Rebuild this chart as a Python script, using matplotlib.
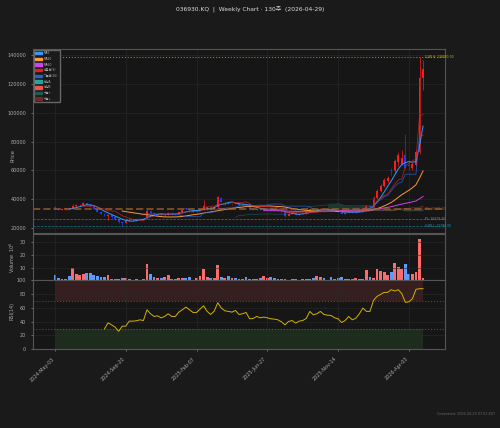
import numpy as np
import pandas as pd
import matplotlib
matplotlib.use('Agg')
import matplotlib.pyplot as plt
from matplotlib.patches import Patch

plt.rcParams['font.family'] = ['DejaVu Sans', 'Noto Sans CJK KR']

# weekly OHLC (KRW)
opens = [34800, 33500, 32800, 33200, 33900, 33100, 35300, 35700, 36200, 37300,
         36300, 35000, 33400, 31500, 30100, 28600, 29000, 27800, 26000, 24500,
         23700, 25000, 25800, 25300, 26400, 26000, 26700, 31700, 30200, 29300,
         29600, 28900, 29400, 30600, 29800, 29700, 31100, 33700, 33200, 31200,
         31600, 31700, 33000, 33100, 34500, 33200, 34400, 41000, 36500, 37600,
         36400, 37600, 37200, 35700, 36900, 36500, 33100, 32900, 33500, 32800,
         33100, 33200, 32700, 32000, 32200, 31000, 28600, 29900, 30300, 29200,
         30000, 30300, 31000, 33300, 32500, 32800, 33500, 32800, 32600, 32500,
         31800, 31400, 30000, 30600, 31700, 30800, 31200, 32500, 33500, 35400,
         34600, 41000, 45800, 49500, 53000, 60500, 59500, 66000, 64000, 71000,
         64000, 61500, 64000, 72500, 124500]
highs = [35500, 34000, 33600, 34000, 34300, 36500, 36400, 37000, 38000, 37600,
         36700, 35300, 33600, 31800, 30500, 29800, 29300, 28100, 26400, 24900,
         25500, 26000, 26100, 26500, 26700, 26900, 33500, 32300, 30600, 29900,
         29800, 29700, 31200, 30900, 30000, 31400, 32700, 34000, 33400, 32000,
         32100, 33500, 39500, 35300, 34700, 34600, 42500, 41500, 38300, 37900,
         37000, 37600, 37400, 36400, 36800, 36600, 33400, 33800, 33700, 33600,
         33500, 33300, 32800, 32600, 32300, 31200, 30200, 30500, 30400, 30200,
         30500, 31200, 33500, 33500, 33000, 33700, 33600, 33000, 32800, 32600,
         31900, 31500, 30800, 31900, 31800, 31500, 32800, 34200, 35800, 35800,
         42000, 47000, 50500, 54500, 56500, 62000, 68000, 72500, 74000, 85000,
         65500, 66000, 74000, 138980, 137000]
lows = [33000, 32600, 32300, 32800, 32900, 33000, 34600, 35200, 35800, 35900,
        34600, 33000, 31000, 29500, 28500, 25800, 27300, 25800, 23800, 21790,
        23300, 24600, 25000, 25000, 25800, 25700, 26400, 29800, 29000, 28900,
        28700, 28600, 29200, 29400, 29300, 29500, 30800, 32800, 32000, 30900,
        31300, 31600, 32800, 32900, 32900, 33000, 34100, 37800, 36200, 36500,
        36000, 36800, 35500, 35400, 36200, 32500, 32700, 32700, 32800, 32600,
        32900, 32300, 32200, 31800, 30800, 28000, 28400, 29600, 29000, 29000,
        29700, 30100, 30900, 32300, 32200, 32600, 32600, 32400, 32300, 31600,
        31200, 29800, 29900, 30500, 30600, 30700, 31000, 32300, 33200, 34200,
        34400, 40500, 45000, 48500, 51000, 57000, 58500, 63000, 64000, 61000,
        60500, 60000, 63000, 71500, 116000]
closes = [33300, 32900, 33300, 33700, 33100, 35400, 35900, 36300, 37200, 36200,
          35000, 33300, 31400, 30000, 28800, 29200, 27700, 26100, 24300, 23600,
          25100, 25700, 25300, 26300, 26100, 26600, 31800, 30200, 29300, 29500,
          28900, 29400, 30600, 29700, 29600, 31100, 32300, 33200, 32300, 31600,
          31700, 33000, 35500, 34500, 33200, 34300, 41500, 38200, 37500, 37000,
          36700, 37300, 35800, 36100, 36600, 33000, 32900, 33500, 33000, 33300,
          33200, 32600, 32400, 32200, 31000, 28600, 29900, 30300, 29200, 30000,
          30300, 31000, 33200, 32500, 32800, 33500, 32800, 32600, 32500, 31800,
          31400, 30000, 30600, 31700, 30800, 31200, 32500, 33800, 35000, 34600,
          41200, 45800, 49500, 53500, 55000, 59500, 66500, 70500, 69000, 62000,
          62800, 64500, 72500, 124000, 130500]
# volume in millions of shares
volumes = [3.9, 2.1, 1.3, 1.3, 3.1, 9.7, 4.7, 3.9, 5.2, 5.8,
           5.8, 4.5, 3.1, 2.6, 2.6, 3.9, 1.3, 1.0, 1.0, 1.6,
           1.8, 1.0, 0.5, 1.3, 0.5, 1.0, 13.1, 4.7, 2.9, 2.1,
           2.1, 2.6, 3.9, 1.0, 0.8, 2.1, 2.1, 2.1, 2.9, 0.5,
           2.1, 3.4, 9.2, 2.6, 1.8, 2.1, 12.3, 2.9, 2.1, 3.4,
           2.1, 1.8, 1.3, 1.3, 2.4, 1.3, 1.3, 1.3, 1.8, 3.1,
           2.1, 2.4, 1.6, 1.3, 0.8, 0.8, 0.5, 1.3, 0.8, 0.5,
           0.8, 0.8, 1.0, 1.8, 3.1, 2.4, 2.1, 0.5, 2.4, 1.3,
           1.8, 2.4, 1.0, 0.8, 0.8, 1.6, 1.0, 1.0, 8.4, 2.9,
           2.1, 9.2, 7.6, 6.3, 3.9, 6.6, 13.6, 10.5, 8.7, 13.1,
           4.7, 4.7, 6.6, 32.8, 2.1]
rsi_vals = [np.nan] * 14 + [
    29.6, 38.3, 35.4, 32.0, 26.0, 33.5, 33.5, 40.8, 40.8, 41.3,
    42.7, 41.7, 57.3, 51.5, 47.6, 48.5, 45.6, 47.6, 51.5, 47.6,
    47.6, 53.9, 57.3, 61.2, 57.3, 53.4, 53.4, 58.3, 63.1, 54.9,
    50.5, 55.3, 67.5, 59.7, 55.8, 54.9, 53.9, 56.3, 50.5, 51.5,
    53.4, 44.2, 44.7, 47.6, 45.6, 46.6, 45.6, 44.2, 43.7, 42.7,
    39.8, 35.4, 40.3, 41.7, 37.9, 40.8, 41.7, 44.7, 54.9, 50.0,
    51.5, 54.9, 50.5, 49.5, 49.0, 45.6, 44.2, 38.8, 41.7, 47.6,
    42.7, 45.0, 51.5, 59.7, 54.9, 54.9, 70.9, 76.7, 79.6, 82.5,
    82.5, 86.4, 84.5, 86.4, 80.6, 68.0, 68.9, 73.3, 86.9, 87.9,
    87.9]

high_52w = 138980.00
low_52w = 21790.00
pivot_high = 33205.00
pivot_low = 26079.40

dates = pd.date_range('2024-05-03', periods=len(closes), freq='W-FRI')
df = pd.DataFrame({'Open': opens, 'High': highs, 'Low': lows, 'Close': closes,
                   'Volume': volumes}, index=dates)
x = np.arange(len(df))

ma5 = df.Close.rolling(5).mean()
ma20 = df.Close.rolling(20).mean()
ma60 = df.Close.rolling(60).mean()
tenkan = (df.High.rolling(9).max() + df.Low.rolling(9).min()) / 2
kijun = (df.High.rolling(26).max() + df.Low.rolling(26).min()) / 2
span_a = ((tenkan + kijun) / 2).shift(26)
span_b = ((df.High.rolling(52).max() + df.Low.rolling(52).min()) / 2).shift(26)

BG = '#1a1a1a'
AXBG = '#161616'
UP = '#ff1a1a'
DOWN = '#1a3cff'
TXT = '#aaaaaa'

fig = plt.figure(figsize=(5, 4.28), dpi=100, facecolor=BG)
ax = fig.add_axes([0.066, 0.456, 0.824, 0.430])
axv = fig.add_axes([0.066, 0.345, 0.824, 0.108], sharex=ax)
axr = fig.add_axes([0.066, 0.184, 0.824, 0.161], sharex=ax)

for a in (ax, axv, axr):
    a.set_facecolor(AXBG)
    a.grid(True, color='#2a2a2a', linewidth=0.4)
    a.tick_params(colors=TXT, labelsize=3.5, length=1.5, width=0.4)
    for s in a.spines.values():
        s.set_color('#555555')
        s.set_linewidth(0.8)

# candles
up = df.Close >= df.Open
cols = np.where(up, UP, DOWN)
ax.vlines(x, df.Low, df.High, colors=cols, linewidth=0.5)
body = (df.Close - df.Open).abs().clip(lower=200)
ax.bar(x, body, bottom=np.minimum(df.Open, df.Close), width=0.55, color=cols,
       linewidth=0)

# indicators
ax.plot(x, ma5, color='#3399ff', lw=0.7, label='MA5')
ax.plot(x, ma20, color='#ff9933', lw=0.7, label='MA20')
ax.plot(x, ma60, color='#cc44ee', lw=0.7, label='MA60')
ax.plot(x, tenkan, color='#cc2222', lw=0.6, alpha=0.8)
ax.plot(x, kijun, color='#2a5fcc', lw=0.6, alpha=0.8)
ax.plot(x, span_a, color='#26a69a', lw=0.5, alpha=0.4)
ax.plot(x, span_b, color='#ef5350', lw=0.5, alpha=0.4)
ax.fill_between(x, span_a, span_b, where=span_a >= span_b, color='#1f5c50',
                alpha=0.5, linewidth=0)
ax.fill_between(x, span_a, span_b, where=span_a < span_b, color='#6b2b2b',
                alpha=0.5, linewidth=0)

# reference levels
levels = [(high_52w, '#c8b400', ':', 0.8, '52W H: {:.2f}'),
          (pivot_high, '#a0622d', '--', 1.4, 'PH: {:.2f}'),
          (pivot_low, '#888888', '--', 0.5, 'PL: {:.2f}'),
          (low_52w, '#1aa0c0', '--', 0.5, '52W L: {:.2f}')]
for val, c, ls, lw, fmt in levels:
    ax.axhline(val, color=c, linestyle=ls, linewidth=lw, alpha=0.7)
    ax.text(len(df) - 0.5, val, fmt.format(val), color=c, fontsize=2.2,
            va='center', ha='left', clip_on=False)

ax.set_ylim(16700, 144500)
ax.set_xlim(-6.2, len(df) + 5.2)
ax.set_ylabel('Price', color=TXT, fontsize=3.8)
ax.yaxis.set_label_coords(-0.042, 0.42)
ax.tick_params(labelbottom=False)

handles = [Patch(color=c, label=l) for c, l in [
    ('#3399ff', 'MA5'), ('#ff9933', 'MA20'), ('#cc44ee', 'MA60'),
    ('#e02020', '전환선(9)'), ('#2a5fcc', '기준선(26)'), ('#26a69a', '선행A'),
    ('#ef5350', '선행B'), ('#1f5c50', '구름↑'), ('#6b2b2b', '구름↓')]]
leg = ax.legend(handles=handles, loc='upper left', fontsize=2.2,
                facecolor=BG, edgecolor='#666666', labelcolor=TXT,
                handlelength=2.0, handleheight=0.9, borderpad=0.5,
                labelspacing=0.55, framealpha=1, borderaxespad=0.3)

# volume
vcols = np.where(up, '#ff6b6b', '#5b9bff')
axv.bar(x, df.Volume, width=0.8, color=vcols, linewidth=0)
axv.set_ylim(0, 36.5)
axv.set_yticks([10, 20, 30])
axv.set_ylabel('Volume  $10^{6}$', color=TXT, fontsize=3.5)
axv.yaxis.set_label_coords(-0.04, 0.5)
axv.tick_params(labelbottom=False)

# RSI
rsi = pd.Series(rsi_vals, index=dates)
axr.fill_between(x, 70, 100, color='#ef5350', alpha=0.15, linewidth=0)
axr.fill_between(x, 0, 30, color='#4caf50', alpha=0.15, linewidth=0)
axr.axhline(70, color='#ef5350', linestyle=':', linewidth=0.8, alpha=0.5)
axr.axhline(30, color='#4caf50', linestyle=':', linewidth=0.8, alpha=0.5)
axr.plot(x, rsi, color='#d4b000', lw=0.7)
axr.set_ylim(0, 100)
axr.set_yticks([0, 20, 40, 60, 80, 100])
axr.set_ylabel('RSI(14)', color=TXT, fontsize=3.5)
axr.yaxis.set_label_coords(-0.045, 0.55)

ticks = x[::20]
axr.set_xticks(ticks)
axr.set_xticklabels([d.strftime('%Y-%b-%d') for d in dates[ticks]],
                    rotation=45, ha='right', fontsize=3.5, color=TXT)

fig.suptitle('036930.KQ  |  Weekly Chart · 130주  (2026-04-29)', y=0.985,
             fontsize=4.3, color='#dddddd')
fig.text(0.99, 0.03, 'Generated: 2026-04-29 07:01 KST', ha='right',
         fontsize=2.4, color='#666666')

fig.savefig('out.png', dpi=100, facecolor=BG)
